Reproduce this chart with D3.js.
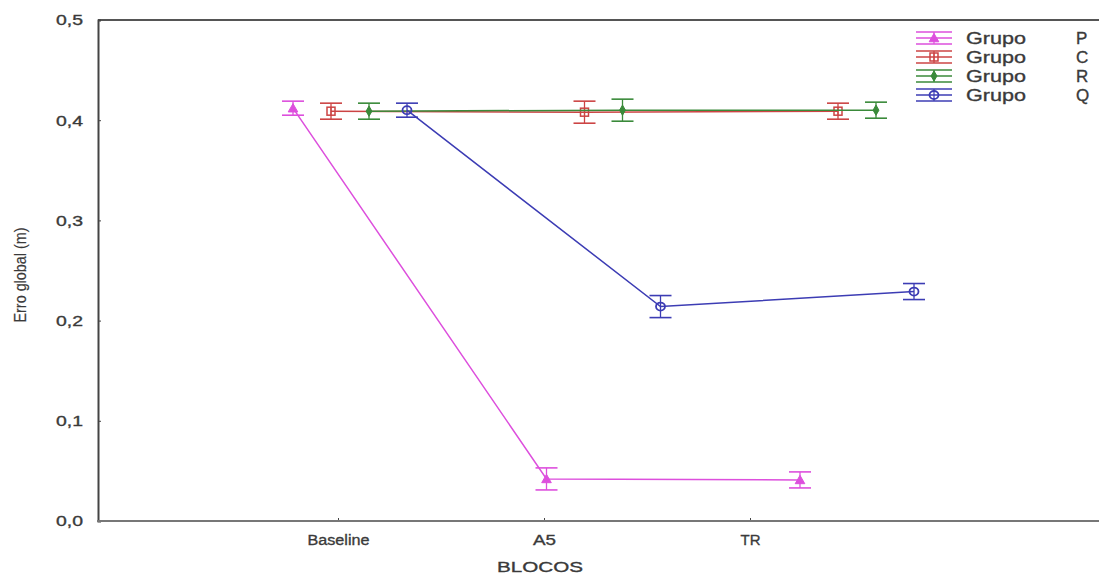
<!DOCTYPE html>
<html>
<head>
<meta charset="utf-8">
<script src="https://cdn.jsdelivr.net/npm/d3@7"></script>
<style>
  body { margin: 0; background: #fff; }
  text { font-family: "Liberation Sans", Arial, sans-serif; fill: #3a3a3a; stroke: #3a3a3a; stroke-width: 0.35px; }
</style>
</head>
<body>
<svg></svg>
<script>
let width = 1099;
let height = 578;

// data
let blocos = ['Baseline', 'A5', 'TR'];
let grupos = ['P', 'C', 'R', 'Q'];
let yTicks = [0, 0.1, 0.2, 0.3, 0.4, 0.5];

let mediaP = [0.412, 0.042, 0.041];
let mediaC = [0.409, 0.408, 0.409];
let mediaR = [0.409, 0.410, 0.410];
let mediaQ = [0.410, 0.214, 0.229];

let erroP = [0.007, 0.011, 0.008];
let erroC = [0.008, 0.011, 0.008];
let erroR = [0.008, 0.011, 0.008];
let erroQ = [0.007, 0.011, 0.008];

let cores = {P: '#dd4fdd', C: '#cc4444', R: '#3a8a3a', Q: '#3c3cb4'};

let series = [
  {g: 'P', media: mediaP, erro: erroP},
  {g: 'C', media: mediaC, erro: erroC},
  {g: 'R', media: mediaR, erro: erroR},
  {g: 'Q', media: mediaQ, erro: erroQ}
];

let svg = d3.select('svg')
            .attr('width', width)
            .attr('height', height);

// scales
let y = d3.scaleLinear().domain([0, 0.5]).range([521, 20]);
let xAxisScale = d3.scalePoint().domain(blocos).range([338, 750]);
let xCat = d3.scalePoint().domain(blocos).range([293, 800]);
let xGrp = d3.scalePoint().domain(grupos).range([0, 114]);

let px = (g, b) => xCat(b) + xGrp(g);

// top frame line
svg.append('line')
   .attr('x1', 98).attr('x2', width)
   .attr('y1', y(0.5)).attr('y2', y(0.5))
   .attr('stroke', '#555').attr('stroke-width', 2);

// y axis
let yAxis = svg.append('g')
   .attr('transform', 'translate(98,0)')
   .call(d3.axisLeft(y).tickValues(yTicks).tickSize(-3).tickPadding(15)
         .tickFormat(d => d3.format('.1f')(d).replace('.', ',')));
yAxis.select('.domain').attr('stroke', '#444').attr('stroke-width', 2);
yAxis.selectAll('.tick line').attr('stroke', '#444');
yAxis.selectAll('text')
     .style('font-size', '15px')
     .attr('textLength', 27)
     .attr('lengthAdjust', 'spacingAndGlyphs');

// x axis
let xLens = {Baseline: 62, A5: 23, TR: 20};
let xAxis = svg.append('g')
   .attr('transform', 'translate(0,521)')
   .call(d3.axisBottom(xAxisScale).tickSize(-3).tickPadding(13));
xAxis.select('.domain').remove();
xAxis.append('line')
   .attr('x1', 97).attr('x2', width)
   .attr('stroke', '#777').attr('stroke-width', 2);
xAxis.selectAll('.tick line').attr('stroke', '#444');
xAxis.selectAll('text')
     .style('font-size', '15.5px')
     .attr('textLength', d => xLens[d])
     .attr('lengthAdjust', 'spacingAndGlyphs');

// axis titles
svg.append('text')
   .attr('x', 540).attr('y', 572)
   .attr('text-anchor', 'middle')
   .style('font-size', '15.5px')
   .attr('textLength', 86)
   .attr('lengthAdjust', 'spacingAndGlyphs')
   .text('BLOCOS');

svg.append('text')
   .attr('transform', 'translate(26,275) rotate(-90)')
   .attr('text-anchor', 'middle')
   .style('font-size', '17px')
   .style('stroke-width', '0.2px')
   .attr('textLength', 95)
   .attr('lengthAdjust', 'spacingAndGlyphs')
   .text('Erro global (m)');

// markers
function marker(sel, g, cx, cy) {
  let c = cores[g];
  if (g == 'P') {
    sel.append('path')
       .attr('d', d3.symbol(d3.symbolTriangle, 40)())
       .attr('transform', 'translate(' + cx + ',' + (cy + 1) + ')')
       .attr('fill', c).attr('stroke', c);
  } else if (g == 'C') {
    sel.append('rect')
       .attr('x', cx - 4).attr('y', cy - 4)
       .attr('width', 8).attr('height', 8)
       .attr('fill', 'none').attr('stroke', c).attr('stroke-width', 1.5);
    sel.append('line')
       .attr('x1', cx).attr('x2', cx).attr('y1', cy - 4).attr('y2', cy + 4)
       .attr('stroke', c).attr('stroke-width', 1.2);
  } else if (g == 'R') {
    sel.append('path')
       .attr('d', d3.symbol(d3.symbolDiamond, 30)())
       .attr('transform', 'translate(' + cx + ',' + cy + ')')
       .attr('fill', c).attr('stroke', c);
  } else {
    sel.append('ellipse')
       .attr('cx', cx).attr('cy', cy).attr('rx', 4.5).attr('ry', 4)
       .attr('fill', 'none').attr('stroke', c).attr('stroke-width', 1.8);
  }
}

let line = d3.line().x(d => d.x).y(d => d.y);

series.forEach(function(s) {
  let c = cores[s.g];
  let pts = blocos.map((b, i) => ({x: px(s.g, b), y: y(s.media[i]), lo: y(s.media[i] - s.erro[i]), hi: y(s.media[i] + s.erro[i])}));
  let grp = svg.append('g');

  grp.append('path')
     .attr('d', line(pts))
     .attr('fill', 'none')
     .attr('stroke', c)
     .attr('stroke-width', 1.5);

  pts.forEach(function(p) {
    grp.append('line')
       .attr('x1', p.x).attr('x2', p.x).attr('y1', p.hi).attr('y2', p.lo)
       .attr('stroke', c).attr('stroke-width', 1.3);
    [p.hi, p.lo].forEach(function(v) {
      grp.append('line')
         .attr('x1', p.x - 11).attr('x2', p.x + 11).attr('y1', v).attr('y2', v)
         .attr('stroke', c).attr('stroke-width', 1.6);
    });
    marker(grp, s.g, p.x, p.y);
  });
});

// legend
let legend = svg.append('g');
grupos.forEach(function(g, i) {
  let ly = 38 + i * 19;
  let c = cores[g];
  [-6, 0, 6].forEach(function(o) {
    legend.append('line')
       .attr('x1', 916).attr('x2', 952).attr('y1', ly + o).attr('y2', ly + o)
       .attr('stroke', c).attr('stroke-width', 1.4);
  });
  legend.append('line')
     .attr('x1', 934).attr('x2', 934).attr('y1', ly - 6).attr('y2', ly + 6)
     .attr('stroke', c).attr('stroke-width', 1.2);
  marker(legend, g, 934, ly);
  legend.append('text')
     .attr('x', 966).attr('y', ly + 6)
     .style('font-size', '17px')
     .attr('textLength', 60)
     .attr('lengthAdjust', 'spacingAndGlyphs')
     .text('Grupo');
  legend.append('text')
     .attr('x', 1076).attr('y', ly + 6)
     .style('font-size', '17px')
     .text(g);
});
</script>
</body>
</html>
